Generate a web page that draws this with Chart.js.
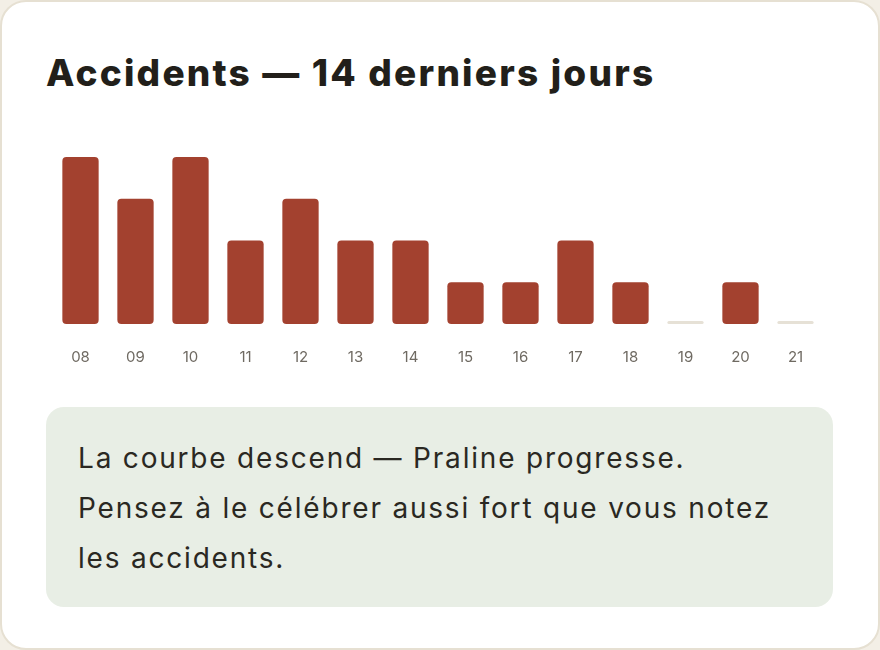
<!DOCTYPE html>
<html><head><meta charset="utf-8">
<script src="https://cdn.jsdelivr.net/npm/chart.js@4"></script>
<style>
html,body{margin:0;padding:0;background:#f3efe6;}
.card{position:absolute;left:0;top:0;width:876px;height:646px;background:#fff;border:2px solid #e6e0d2;border-radius:26px;}
h1{position:absolute;left:46px;top:50px;margin:0;font-family:Inter,sans-serif;font-weight:800;font-size:37px;color:#221f1a;letter-spacing:2.2px;}
.wrap{position:absolute;left:53px;top:150px;width:770px;height:232px;}
.note{position:absolute;left:46px;top:407px;width:787px;height:200px;background:#e8eee5;border-radius:18px;box-sizing:border-box;padding:26px 32px;font-family:Inter,sans-serif;font-size:28px;line-height:50px;color:#2a2822;letter-spacing:1.8px;}
</style></head><body>
<div class="card"></div>
<h1>Accidents — 14 derniers jours</h1>
<div class="wrap"><canvas id="c"></canvas></div>
<div class="note">La courbe descend — Praline progresse.<br>Pensez à le célébrer aussi fort que vous notez<br>les accidents.</div>
<script>
const days=['08','09','10','11','12','13','14','15','16','17','18','19','20','21'];
const accidents=[4,3,4,2,3,2,2,1,1,2,1,0,1,0];
new Chart(document.getElementById('c'),{
 type:'bar',
 data:{labels:days,datasets:[{data:accidents,
   backgroundColor:accidents.map(v=>v===0?'#e6e1d6':'#a3412f'),
   borderRadius:4,borderSkipped:false,minBarLength:3,
   barPercentage:0.66,categoryPercentage:1}]},
 options:{responsive:true,maintainAspectRatio:false,animation:false,
  layout:{padding:{top:7}},
  plugins:{legend:{display:false},tooltip:{enabled:false}},
  scales:{
   y:{display:false,min:0,max:4},
   x:{grid:{display:false},border:{display:false},
      ticks:{color:'#6f6a62',font:{family:'Inter',size:15},padding:16}}
  }}
});
</script>
</body></html>
